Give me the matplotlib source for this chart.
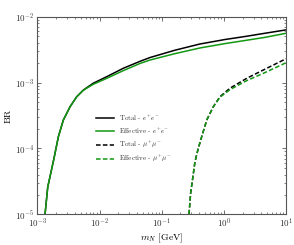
import matplotlib
matplotlib.use('Agg')
import matplotlib.pyplot as plt

plt.rcParams['font.family'] = 'cmr10'
plt.rcParams['mathtext.fontset'] = 'cm'
plt.rcParams['axes.formatter.use_mathtext'] = True

# values (m_N in GeV, BR)
m_ee = [1.33e-3, 1.47e-3, 1.83e-3, 2.18e-3, 2.62e-3, 3.36e-3, 4.3e-3, 5.5e-3,
        7.9e-3, 1.31e-2, 2.42e-2, 4.48e-2, 6.5e-2, 0.164, 0.413, 1.04, 2.19, 4.58, 10.0]
br_ee_total = [1.0e-5, 2.6e-5, 6.7e-5, 1.51e-4, 2.7e-4, 4.3e-4, 6.1e-4, 7.7e-4,
               9.75e-4, 1.23e-3, 1.65e-3, 2.1e-3, 2.4e-3, 3.1e-3, 3.85e-3, 4.5e-3,
               5.0e-3, 5.6e-3, 6.3e-3]
br_ee_eff = [1.0e-5, 2.6e-5, 6.7e-5, 1.51e-4, 2.7e-4, 4.3e-4, 6.1e-4, 7.65e-4,
             9.4e-4, 1.16e-3, 1.52e-3, 1.95e-3, 2.2e-3, 2.75e-3, 3.35e-3, 3.9e-3,
             4.35e-3, 4.85e-3, 5.6e-3]

m_mm = [0.275, 0.292, 0.343, 0.387, 0.44, 0.53, 0.676, 0.865, 1.25, 2.33, 4.3, 10.0]
br_mm_total = [1.0e-5, 2.1e-5, 6.3e-5, 1.0e-4, 1.51e-4, 2.7e-4, 4.3e-4, 6.1e-4,
               8.2e-4, 1.16e-3, 1.55e-3, 2.3e-3]
br_mm_eff = [1.0e-5, 2.1e-5, 6.3e-5, 1.0e-4, 1.51e-4, 2.7e-4, 4.3e-4, 6.0e-4,
             7.8e-4, 1.07e-3, 1.38e-3, 2.0e-3]

green = '#129812'

fig = plt.figure(figsize=(2.94, 2.45), dpi=100)
ax = fig.add_axes([0.127, 0.125, 0.846, 0.807])

ax.plot(m_ee, br_ee_total, color='black', lw=1.1, label=r'Total - $e^{+}e^{-}$')
ax.plot(m_ee, br_ee_eff, color=green, lw=1.1, label=r'Effective - $e^{+}e^{-}$')
ax.plot(m_mm, br_mm_total, color='black', lw=1.1, ls=(0, (3, 1.5)), label=r'Total - $\mu^{+}\mu^{-}$')
ax.plot(m_mm, br_mm_eff, color=green, lw=1.1, ls=(0, (3, 1.5)), label=r'Effective - $\mu^{+}\mu^{-}$')

ax.set_xscale('log')
ax.set_yscale('log')
ax.set_xlim(1e-3, 10)
ax.set_ylim(1e-5, 1e-2)

ax.set_xlabel(r'$m_N$ [GeV]', fontsize=7, labelpad=0.5)
ax.set_ylabel('BR', fontsize=7, labelpad=2)

for s in ax.spines.values():
    s.set_color('#555555')
    s.set_linewidth(0.8)
ax.tick_params(which='both', direction='in', top=True, right=True, colors='#555555',
               labelcolor='#333333', labelsize=6.5, pad=2)
ax.tick_params(which='major', length=3, width=0.6)
ax.tick_params(which='minor', length=1.6, width=0.5)

ax.legend(loc='upper left', bbox_to_anchor=(0.22, 0.53), frameon=False, fontsize=5,
          borderpad=0, handlelength=2.6, handletextpad=0.8, labelspacing=0.5,
          labelcolor='#333333')

fig.savefig('out.png', dpi=100)
